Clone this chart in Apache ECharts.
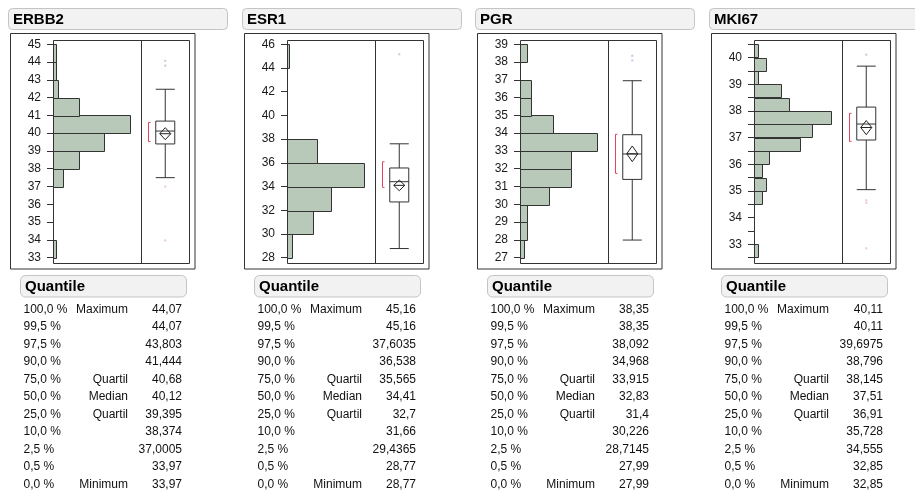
<!DOCTYPE html>
<html>
<head>
<meta charset="utf-8">
<script src="https://cdn.jsdelivr.net/npm/echarts@6/dist/echarts.min.js"></script>
<style>
  html, body { margin: 0; padding: 0; background: #fff; }
  #chart { width: 915px; height: 495px; }
</style>
</head>
<body>
<div id="chart"></div>
<script>
// ---- Data -------------------------------------------------------------
const variables = ['ERBB2', 'ESR1', 'PGR', 'MKI67'];

// Histogram bins (lower edge) and counts per variable
const binWidth = [1, 2, 1, 0.5];
const binStarts = [
  [33, 34, 35, 36, 37, 38, 39, 40, 41, 42, 43, 44],
  [28, 30, 32, 34, 36, 38, 40, 42, 44],
  [27, 28, 29, 30, 31, 32, 33, 34, 35, 36, 37, 38],
  [32.5, 33, 33.5, 34, 34.5, 35, 35.5, 36, 36.5, 37, 37.5, 38, 38.5, 39, 39.5, 40]
];
const binCounts = [
  [1, 0, 0, 0, 4, 10, 20, 30, 10, 2, 1, 1],
  [2, 11, 19, 33, 13, 0, 0, 0, 1],
  [1, 2, 2, 8, 14, 14, 21, 9, 3, 3, 0, 2],
  [1, 0, 0, 0, 2, 3, 2, 4, 12, 15, 20, 9, 7, 1, 3, 1]
];

// Outlier box plot statistics
const whiskerLow  = [37.5, 28.77, 27.99, 35.05];
const quartile1   = [39.395, 32.7, 31.4, 36.91];
const medians     = [40.12, 34.41, 32.83, 37.51];
const quartile3   = [40.68, 35.565, 33.915, 38.145];
const whiskerHigh = [42.47, 37.6035, 36.95, 39.68];
const means       = [39.97, 34.10, 32.84, 37.38];
const meanCILow   = [39.63, 33.65, 32.40, 37.11];
const meanCIHigh  = [40.31, 34.55, 33.28, 37.64];
const shortHalfLow  = [39.53, 33.93, 31.74, 36.86];
const shortHalfHigh = [40.60, 36.09, 33.94, 37.91];
const outliers = [
  [43.803, 44.07, 37.0005, 33.97],
  [45.16],
  [38.092, 38.35],
  [40.11, 34.555, 34.65, 32.85]
];

// Axis ranges and tick spacing
const tickMin = [33, 28, 27, 32.5];
const tickMax = [45, 46, 39, 40.5];
const tickStep = [1, 2, 1, 0.5];
const viewMin = [32.7, 27.55, 26.7, 32.3];
const viewMax = [45.24, 46.36, 39.24, 40.66];

// Quantile tables
const quantileLevels = ['100,0 %', '99,5 %', '97,5 %', '90,0 %', '75,0 %', '50,0 %',
                        '25,0 %', '10,0 %', '2,5 %', '0,5 %', '0,0 %'];
const quantileNames = ['Maximum', '', '', '', 'Quartil', 'Median', 'Quartil', '', '', '', 'Minimum'];
const quantileValues = [
  [44.07, 44.07, 43.803, 41.444, 40.68, 40.12, 39.395, 38.374, 37.0005, 33.97, 33.97],
  [45.16, 45.16, 37.6035, 36.538, 35.565, 34.41, 32.7, 31.66, 29.4365, 28.77, 28.77],
  [38.35, 38.35, 38.092, 34.968, 33.915, 32.83, 31.4, 30.226, 28.7145, 27.99, 27.99],
  [40.11, 40.11, 39.6975, 38.796, 38.145, 37.51, 36.91, 35.728, 34.555, 32.85, 32.85]
];

// ---- Layout -----------------------------------------------------------
const FONT = '"Liberation Sans", Arial, Helvetica, sans-serif';
const PANEL_DX = 233.67;
const P = {
  titleX: 8, titleY: 8.5, titleW: 219, titleH: 21,
  frameX: 10.5, frameY: 33.5, frameW: 184.5, frameH: 235.5,
  plotL: 53, plotR: 189, split: 141.5, plotT: 40, plotB: 263,
  qX: 20.5, qY: 275.5, qW: 166, qH: 21.5,
  rowY0: 309.5, rowDY: 17.47,
  colLevel: 23.5, colName: 128, colValue: 182
};
const LINE = '#333';
const fmt = v => String(v).replace('.', ',');

const grids = [], xAxes = [], yAxes = [], series = [], graphics = [];

variables.forEach((name, i) => {
  const ox = Math.round(i * PANEL_DX);
  const scale = (P.plotB - P.plotT) / (viewMax[i] - viewMin[i]);
  const gTop = P.plotT + (viewMax[i] - tickMax[i]) * scale;
  const gH = (tickMax[i] - tickMin[i]) * scale;
  const maxCount = Math.max(...binCounts[i]);

  // histogram grid
  grids.push({ left: ox + P.plotL, top: gTop, width: P.split - P.plotL, height: gH, containLabel: false });
  // box plot grid
  grids.push({ left: ox + P.split, top: gTop, width: P.plotR - P.split, height: gH, containLabel: false });
  const gh = 2 * i, gb = 2 * i + 1;

  xAxes.push({ gridIndex: gh, type: 'value', min: 0, max: maxCount * 1.15, show: false });
  xAxes.push({ gridIndex: gb, type: 'category', data: [name], show: false });

  const step = tickStep[i];
  yAxes.push({
    gridIndex: gh, type: 'value', min: tickMin[i], max: tickMax[i], interval: step,
    axisLine: { show: true, lineStyle: { color: LINE, width: 1 } },
    axisTick: { show: true, length: 6, lineStyle: { color: LINE, width: 1 } },
    axisLabel: {
      margin: 12, color: '#1a1a1a', fontSize: 12, fontFamily: FONT,
      formatter: v => (Math.abs(v - Math.round(v)) < 1e-9 ? String(Math.round(v)) : '')
    },
    splitLine: { show: false }
  });
  yAxes.push({ gridIndex: gb, type: 'value', min: tickMin[i], max: tickMax[i], show: false, splitLine: { show: false } });

  // histogram bars
  const bins = binStarts[i]
    .map((s, k) => [s, s + binWidth[i], binCounts[i][k]])
    .filter(d => d[2] > 0);
  series.push({
    type: 'custom', xAxisIndex: gh, yAxisIndex: gh, data: bins, silent: true,
    encode: { x: 2, y: [0, 1] },
    renderItem: (params, api) => {
      const a = api.coord([0, api.value(0)]);
      const b = api.coord([api.value(2), api.value(1)]);
      return {
        type: 'rect',
        shape: { x: Math.round(a[0]) + 0.5, y: Math.round(b[1]) + 0.5,
                 width: Math.round(b[0] - a[0]), height: Math.round(a[1] - b[1]) },
        style: { fill: '#b8c9b9', stroke: LINE, lineWidth: 1 }
      };
    }
  });

  // box and whiskers
  series.push({
    type: 'boxplot', xAxisIndex: gb, yAxisIndex: gb, silent: true,
    boxWidth: [19, 19],
    data: [[whiskerLow[i], quartile1[i], medians[i], quartile3[i], whiskerHigh[i]]],
    itemStyle: { color: '#fff', borderColor: LINE, borderWidth: 1 },
    emphasis: { disabled: true }
  });

  // mean diamond
  series.push({
    type: 'custom', xAxisIndex: gb, yAxisIndex: gb, silent: true, z: 5,
    data: [[0, means[i], meanCILow[i], meanCIHigh[i]]],
    renderItem: (params, api) => {
      const c = api.coord([0, api.value(1)]);
      const t = api.coord([0, api.value(3)]);
      const b = api.coord([0, api.value(2)]);
      const w = 5.5;
      return {
        type: 'group',
        children: [
          { type: 'polygon',
            shape: { points: [[c[0], t[1]], [c[0] + w, c[1]], [c[0], b[1]], [c[0] - w, c[1]]] },
            style: { fill: 'none', stroke: '#222', lineWidth: 1 } },
          { type: 'line',
            shape: { x1: c[0] - w, y1: c[1], x2: c[0] + w, y2: c[1] },
            style: { stroke: '#222', lineWidth: 1 } }
        ]
      };
    }
  });

  // shortest half bracket
  series.push({
    type: 'custom', xAxisIndex: gb, yAxisIndex: gb, silent: true, z: 5,
    data: [[0, shortHalfLow[i], shortHalfHigh[i]]],
    renderItem: (params, api) => {
      const lo = api.coord([0, api.value(1)]);
      const hi = api.coord([0, api.value(2)]);
      const x = Math.round(lo[0] - 9.5 - 8) + 0.5;
      return {
        type: 'polyline',
        shape: { points: [[x + 2, hi[1]], [x, hi[1]], [x, lo[1]], [x + 2, lo[1]]] },
        style: { fill: 'none', stroke: '#e2445f', lineWidth: 1 }
      };
    }
  });

  // outlying points
  series.push({
    type: 'scatter', xAxisIndex: gb, yAxisIndex: gb, silent: true,
    symbol: 'rect', symbolSize: 2,
    data: outliers[i].map(v => ({
      value: [0, v],
      itemStyle: { color: v > medians[i] ? '#b9b9d8' : '#e6b9c8' }
    }))
  });

  // title bar
  graphics.push({
    type: 'rect', z: 1,
    shape: { x: ox + P.titleX + 0.5, y: P.titleY, width: P.titleW, height: P.titleH, r: 4 },
    style: { fill: '#f2f2f2', stroke: '#c4c4c4', lineWidth: 1 }
  });
  graphics.push({
    type: 'text', z: 2, x: ox + 13, y: P.titleY + P.titleH / 2 + 0.5,
    style: { text: name, font: 'bold 15px ' + FONT, fill: '#000',
             textAlign: 'left', textVerticalAlign: 'middle', align: 'left', verticalAlign: 'middle' }
  });

  // outer frame and plot frame
  graphics.push({
    type: 'rect', z: 50,
    shape: { x: ox + P.frameX, y: P.frameY, width: P.frameW, height: P.frameH },
    style: { fill: 'none', stroke: LINE, lineWidth: 1 }
  });
  graphics.push({
    type: 'rect', z: 50,
    shape: { x: ox + P.plotL + 0.5, y: P.plotT + 0.5, width: P.plotR - P.plotL, height: P.plotB - P.plotT },
    style: { fill: 'none', stroke: LINE, lineWidth: 1 }
  });
  graphics.push({
    type: 'line', z: 50,
    shape: { x1: ox + P.split, y1: P.plotT, x2: ox + P.split, y2: P.plotB },
    style: { stroke: LINE, lineWidth: 1 }
  });

  // quantile header
  graphics.push({
    type: 'rect', z: 1,
    shape: { x: ox + P.qX, y: P.qY, width: P.qW, height: P.qH, r: 5 },
    style: { fill: '#f2f2f2', stroke: '#c4c4c4', lineWidth: 1 }
  });
  graphics.push({
    type: 'text', z: 2, x: ox + 25, y: P.qY + P.qH / 2 + 0.5,
    style: { text: 'Quantile', font: 'bold 15px ' + FONT, fill: '#000',
             textAlign: 'left', textVerticalAlign: 'middle', align: 'left', verticalAlign: 'middle' }
  });

  // quantile rows
  quantileLevels.forEach((lvl, k) => {
    const y = P.rowY0 + k * P.rowDY;
    const txt = (t, x, al) => ({
      type: 'text', z: 2, x, y,
      style: { text: t, font: '12px ' + FONT, fill: '#111',
               textAlign: al, textVerticalAlign: 'middle', align: al, verticalAlign: 'middle' }
    });
    graphics.push(txt(lvl, ox + P.colLevel, 'left'));
    if (quantileNames[k]) graphics.push(txt(quantileNames[k], ox + P.colName, 'right'));
    graphics.push(txt(fmt(quantileValues[i][k]), ox + P.colValue, 'right'));
  });
});

const chart = echarts.init(document.getElementById('chart'), null, { renderer: 'canvas' });
chart.setOption({
  backgroundColor: '#fff',
  animation: false,
  textStyle: { fontFamily: FONT },
  grid: grids,
  xAxis: xAxes,
  yAxis: yAxes,
  series: series,
  graphic: graphics
});
</script>
</body>
</html>
